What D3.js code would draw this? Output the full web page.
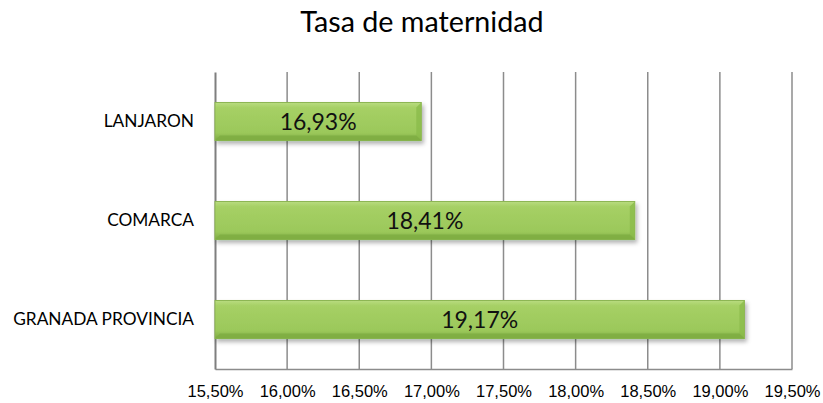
<!DOCTYPE html>
<html>
<head>
<meta charset="utf-8">
<style>
  body { margin: 0; background: #fff; }
  svg { display: block; }
</style>
</head>
<body>
<div class="chart"></div>
<script src="https://cdn.jsdelivr.net/npm/d3@7"></script>
<script type="text/javascript">

    // data
    var categories = ["LANJARON", "COMARCA", "GRANADA PROVINCIA"];
    var values = [16.93, 18.41, 19.17];
    var tickValues = [15.5, 16.0, 16.5, 17.0, 17.5, 18.0, 18.5, 19.0, 19.5];
    var title = "Tasa de maternidad";

    var W = 823, H = 403;
    var margin = {top: 72, right: 31, bottom: 34, left: 215},
        width = W - margin.left - margin.right,
        height = H - margin.top - margin.bottom;

    var comma = function(v, digits) { return v.toFixed(digits).replace(".", ",") + "%"; };

    var x = d3.scaleLinear()
        .domain([15.5, 19.5])
        .range([0, width]);
    var y = d3.scaleBand()
        .domain(categories)
        .range([0, height])
        .paddingInner(0.616)
        .paddingOuter(0.308);

    var svg = d3.select(".chart").append("svg")
        .attr("width", W)
        .attr("height", H);

    var defs = svg.append("defs");
    var grad = defs.append("linearGradient")
        .attr("id", "barFill")
        .attr("x1", 0).attr("y1", 0).attr("x2", 0).attr("y2", 1);
    grad.append("stop").attr("offset", "0%").attr("stop-color", "#b9dc80");
    grad.append("stop").attr("offset", "14%").attr("stop-color", "#a6d065");
    grad.append("stop").attr("offset", "80%").attr("stop-color", "#9bc85a");
    grad.append("stop").attr("offset", "100%").attr("stop-color", "#7da843");

    var shadow = defs.append("filter")
        .attr("id", "shadow")
        .attr("x", "-5%").attr("y", "-30%").attr("width", "115%").attr("height", "170%");
    shadow.append("feDropShadow")
        .attr("dx", 2).attr("dy", 3)
        .attr("stdDeviation", 2)
        .attr("flood-color", "#000")
        .attr("flood-opacity", 0.3);

    // title
    svg.append("text")
        .attr("x", 422)
        .attr("y", 32)
        .attr("text-anchor", "middle")
        .style("font-family", "Lato, 'Open Sans', sans-serif")
        .style("font-size", "28.7px")
        .style("fill", "#000")
        .text(title);

    var g = svg.append("g")
        .attr("transform", "translate(" + margin.left + "," + margin.top + ")");

    // gridlines
    g.selectAll(".grid")
        .data(tickValues.slice(1))
        .enter().append("line")
        .attr("class", "grid")
        .attr("x1", function(d) { return x(d); })
        .attr("x2", function(d) { return x(d); })
        .attr("y1", 0)
        .attr("y2", height)
        .style("stroke", "#8c8c8c")
        .style("stroke-width", 1.5);

    // x axis
    var xAxis = g.append("g")
        .attr("transform", "translate(0," + height + ")")
        .call(d3.axisBottom(x)
            .tickValues(tickValues)
            .tickSize(0)
            .tickPadding(16)
            .tickFormat(function(d) { return comma(d, 2); }));
    xAxis.select(".domain").style("stroke", "#8c8c8c").style("stroke-width", 1.5);
    xAxis.selectAll("text")
        .style("font-family", "'Liberation Sans', Arial, sans-serif")
        .style("font-size", "16.5px")
        .style("fill", "#000");

    // y axis
    var yAxis = g.append("g")
        .call(d3.axisLeft(y)
            .tickSize(0)
            .tickPadding(21));
    yAxis.select(".domain").style("stroke", "#7f7f7f").style("stroke-width", 2);
    yAxis.selectAll("text")
        .style("font-family", "Lato, 'Open Sans', sans-serif")
        .style("font-size", "17.3px")
        .style("fill", "#000");

    // bars
    var bars = g.selectAll(".bar")
        .data(values)
        .enter().append("g")
        .attr("class", "bar");

    bars.append("rect")
        .attr("x", x(15.5))
        .attr("y", function(d, i) { return y(categories[i]); })
        .attr("width", function(d) { return x(d) - x(15.5); })
        .attr("height", y.bandwidth())
        .attr("filter", "url(#shadow)")
        .style("fill", "url(#barFill)")
        .style("stroke", "#8db653")
        .style("stroke-width", 1);

    // bevel edges
    bars.append("path")
        .attr("d", function(d, i) {
            var x1 = x(d), y0 = y(categories[i]), y1 = y0 + y.bandwidth(), b = 5;
            return "M" + (x1 - b) + "," + (y0 + b) + "L" + x1 + "," + y0 + "L" + x1 + "," + y1 +
                "L" + (x1 - b) + "," + (y1 - b) + "Z";
        })
        .style("fill", "#8bbb4b")
        .style("opacity", 0.8);
    bars.append("path")
        .attr("d", function(d, i) {
            var x0 = x(15.5), x1 = x(d), y0 = y(categories[i]), y1 = y0 + y.bandwidth(), b = 5;
            return "M" + x0 + "," + y1 + "L" + (x0 + b) + "," + (y1 - b) + "L" + (x1 - b) + "," + (y1 - b) +
                "L" + x1 + "," + y1 + "Z";
        })
        .style("fill", "#7fae43")
        .style("opacity", 0.9);

    // value labels
    bars.append("text")
        .attr("x", function(d) { return (x(15.5) + x(d)) / 2; })
        .attr("y", function(d, i) { return y(categories[i]) + y.bandwidth() / 2; })
        .attr("dy", "0.36em")
        .attr("text-anchor", "middle")
        .style("font-family", "Lato, 'Open Sans', sans-serif")
        .style("font-size", "23px")
        .style("fill", "#111")
        .text(function(d) { return comma(d, 2); });

</script>
</body>
</html>
